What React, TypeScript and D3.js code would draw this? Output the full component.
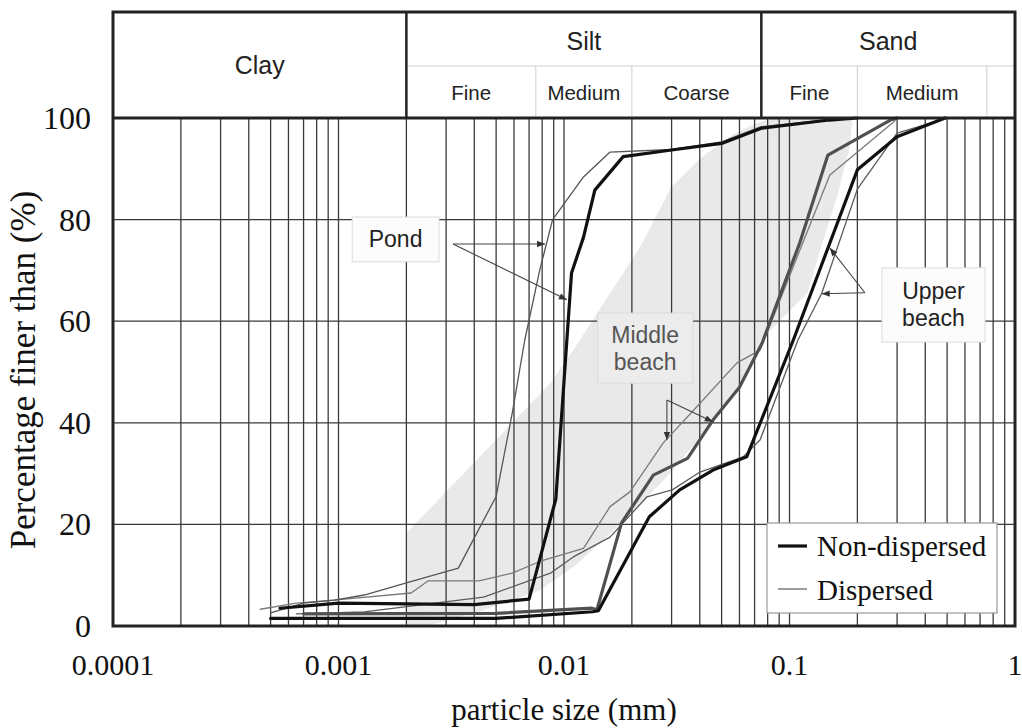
import React from 'react';
import * as d3 from 'd3';

const W = 1022;
const H = 728;
const frame = { left: 113, right: 1015, top: 118, bottom: 626, headTop: 12, headMid: 66 };

const SERIF = '"Liberation Serif", "Times New Roman", serif';
const SANS = '"Liberation Sans", Arial, Helvetica, sans-serif';

// axis ticks
const xTicks = [0.0001, 0.001, 0.01, 0.1, 1];
const xTickLabels = ['0.0001', '0.001', '0.01', '0.1', '1'];
const yTicks = [0, 20, 40, 60, 80, 100];

// soil classification header
const mainClasses = ['Clay', 'Silt', 'Sand'];
const mainBounds = [0.0001, 0.002, 0.075, 1];
const subClasses = ['Fine', 'Medium', 'Coarse', 'Fine', 'Medium', ''];
const subBounds = [0.002, 0.0075, 0.02, 0.075, 0.2, 0.75, 1];

// grading curves: [particle size (mm), percentage finer (%)]
const pondNonDispersed: [number, number][] = [
  [0.00055, 3.5], [0.001, 4.5], [0.004, 4.2], [0.007, 5.3], [0.0092, 25], [0.0108, 69.5],
  [0.0122, 76.5], [0.0137, 85.8], [0.0183, 92.4], [0.03, 93.7], [0.05, 95], [0.075, 98],
  [0.15, 99.6], [0.2, 100],
];
const pondDispersed: [number, number][] = [
  [0.0005, 2.6], [0.0007, 4.5], [0.00096, 5.1], [0.0013, 6.1], [0.002, 8.5], [0.0034, 11.4],
  [0.005, 25.5], [0.0059, 42], [0.0067, 56.3], [0.0078, 70], [0.0089, 80], [0.0122, 88.4],
  [0.016, 93.3], [0.03, 93.8], [0.05, 95.3], [0.075, 98.3], [0.15, 99.7], [0.2, 100],
];
const middleNonDispersed: [number, number][] = [
  [0.0007, 2.4], [0.005, 2.5], [0.0133, 3.5], [0.014, 3.2], [0.018, 20.3], [0.0249, 29.7],
  [0.0353, 33], [0.0457, 40.5], [0.06, 47], [0.0756, 55.7], [0.111, 75.4], [0.148, 92.7],
  [0.28, 99.6], [0.3, 100],
];
const middleDispersed: [number, number][] = [
  [0.00045, 3.3], [0.00065, 4.5], [0.00095, 5.1], [0.0021, 6.5], [0.0025, 8.9], [0.0042, 8.9],
  [0.0059, 10.4], [0.0078, 12.7], [0.0122, 15.3], [0.016, 23.5], [0.0196, 26.4], [0.0275, 36],
  [0.0389, 43.2], [0.0585, 51.8], [0.074, 54.3], [0.151, 88.8], [0.286, 99], [0.3, 100],
];
const upperNonDispersed: [number, number][] = [
  [0.0005, 1.5], [0.005, 1.5], [0.0134, 2.8], [0.0142, 3.0], [0.0239, 21.5], [0.0326, 26.8],
  [0.0458, 30.7], [0.0646, 33.3], [0.104, 56.3], [0.151, 75.4], [0.2, 89.8], [0.3, 96.3],
  [0.49, 100],
];
const upperDispersed: [number, number][] = [
  [0.00065, 2.4], [0.0013, 2.8], [0.0044, 5.7], [0.0087, 10.4], [0.011, 13.6], [0.016, 17.5],
  [0.0233, 25.4], [0.0302, 26.8], [0.0401, 30.3], [0.0623, 33.3], [0.074, 36.6], [0.109, 56.3],
  [0.139, 65.5], [0.2, 86], [0.3, 97], [0.5, 100],
];

// envelope of the middle beach samples
const middleBeachEnvelope: [number, number][] = [
  [0.002, 0], [0.002, 18.3], [0.0087, 47.8], [0.011, 54.3], [0.022, 75], [0.03, 86.5],
  [0.04, 92], [0.055, 96.5], [0.07, 98.8], [0.085, 100], [0.19, 100], [0.185, 94.3],
  [0.164, 85.2], [0.14, 75.4], [0.12, 65.5], [0.0745, 56.3], [0.065, 49.8], [0.046, 40],
  [0.036, 34.6], [0.0285, 29.3], [0.018, 20.3], [0.0113, 12], [0.0078, 7], [0.0043, 3],
  [0.0025, 0],
];

type Series = { data: [number, number][]; color: string; width: number };
const series: Series[] = [
  { data: middleDispersed, color: '#7a7a7a', width: 1.3 },
  { data: upperDispersed, color: '#5a5a5a', width: 1.3 },
  { data: pondDispersed, color: '#555', width: 1.3 },
  { data: middleNonDispersed, color: '#505050', width: 3.2 },
  { data: upperNonDispersed, color: '#111', width: 3.2 },
  { data: pondNonDispersed, color: '#111', width: 3.2 },
];

// callout boxes (data extents) and their arrows
type Callout = {
  lines: string[]; x0: number; x1: number; y0: number; y1: number;
  fill: string; textColor: string; from: [number, number]; to: [number, number][];
};
const callouts: Callout[] = [
  {
    lines: ['Pond'], x0: 0.00115, x1: 0.00279, y0: 71.7, y1: 80.5, fill: '#fcfcfc', textColor: '#222',
    from: [0.00322, 75.2], to: [[0.00824, 75.2], [0.0103, 64.2]],
  },
  {
    lines: ['Middle', 'beach'], x0: 0.0141, x1: 0.0372, y0: 47.8, y1: 61.6, fill: '#ececec', textColor: '#555',
    from: [0.0286, 44.5], to: [[0.0286, 36.6], [0.0457, 40.2]],
  },
  {
    lines: ['Upper', 'beach'], x0: 0.257, x1: 0.736, y0: 55.9, y1: 70.5, fill: '#fcfcfc', textColor: '#222',
    from: [0.216, 65.6], to: [[0.151, 74.4], [0.139, 65.4]],
  },
];

const legendItems = [
  { label: 'Non-dispersed', color: '#111', width: 3.2 },
  { label: 'Dispersed', color: '#666', width: 1.3 },
];

export default function App() {
  const x = d3.scaleLog().domain([0.0001, 1]).range([frame.left, frame.right]);
  const y = d3.scaleLinear().domain([0, 100]).range([frame.bottom, frame.top]);
  const line = d3.line<[number, number]>().x((d) => x(d[0])).y((d) => y(d[1]));
  const area = d3.line<[number, number]>().x((d) => x(d[0])).y((d) => y(d[1])).curve(d3.curveLinearClosed);

  const gridX = x.ticks().filter((v) => v > 0.0001 && v < 1);
  const gridY = yTicks.filter((v) => v > 0 && v < 100);
  const gridColor = '#3a3a3a';

  return (
    <svg width={W} height={H} style={{ position: 'absolute', left: 0, top: 0, background: '#fff' }}>
      <defs>
        <marker id="arrowHead" viewBox="0 0 10 10" refX="10" refY="5" markerWidth="9" markerHeight="8"
          orient="auto" markerUnits="userSpaceOnUse">
          <path d="M0,1 L10,5 L0,9 z" fill="#333" />
        </marker>
      </defs>

      {/* middle beach envelope */}
      <path d={area(middleBeachEnvelope) || ''} fill="#e9e9e9" stroke="none" />

      {/* grid */}
      {gridX.map((v, i) => (
        <line key={'gx' + i} x1={x(v)} x2={x(v)} y1={frame.top} y2={frame.bottom} stroke={gridColor} strokeWidth={1.3} />
      ))}
      {gridY.map((v) => (
        <line key={'gy' + v} x1={frame.left} x2={frame.right} y1={y(v)} y2={y(v)} stroke={gridColor} strokeWidth={1.3} />
      ))}

      {/* curves */}
      {series.map((s, i) => (
        <path key={'s' + i} d={line(s.data) || ''} fill="none" stroke={s.color} strokeWidth={s.width}
          strokeLinejoin="round" strokeLinecap="round" />
      ))}

      {/* classification header */}
      <g fontFamily={SANS} fill="#222">
        <line x1={x(subBounds[0])} x2={frame.right} y1={frame.headMid} y2={frame.headMid} stroke="#cfcfcf" strokeWidth={1} />
        {subBounds.slice(1, -1).map((b, i) => (
          <line key={'sb' + i} x1={x(b)} x2={x(b)} y1={frame.headMid} y2={frame.top} stroke="#cfcfcf" strokeWidth={1} />
        ))}
        {mainClasses.map((c, i) => {
          const cx = (x(mainBounds[i]) + x(mainBounds[i + 1])) / 2;
          const cy = i === 0 ? 74 : 50;
          return (
            <text key={'mc' + i} x={cx} y={cy} textAnchor="middle" fontSize={25}>{c}</text>
          );
        })}
        {subClasses.map((c, i) => {
          const cx = (x(subBounds[i]) + x(subBounds[i + 1])) / 2;
          return (
            <text key={'sc' + i} x={cx} y={100} textAnchor="middle" fontSize={20.5}>{c}</text>
          );
        })}
        {mainBounds.slice(1, -1).map((b, i) => (
          <line key={'mb' + i} x1={x(b)} x2={x(b)} y1={frame.headTop} y2={frame.top} stroke="#222" strokeWidth={2.5} />
        ))}
      </g>

      {/* frame */}
      <g stroke="#222" strokeWidth={3} fill="none">
        <rect x={frame.left} y={frame.headTop} width={frame.right - frame.left} height={frame.bottom - frame.headTop} />
        <line x1={frame.left} x2={frame.right} y1={frame.top} y2={frame.top} />
      </g>

      {/* callouts */}
      {callouts.map((c, i) => {
        const bx0 = x(c.x0), bx1 = x(c.x1), by0 = y(c.y1), by1 = y(c.y0);
        const cx = (bx0 + bx1) / 2;
        const lh = 27;
        const firstBase = (by0 + by1) / 2 + 8 - ((c.lines.length - 1) * lh) / 2;
        return (
          <g key={'c' + i}>
            <rect x={bx0} y={by0} width={bx1 - bx0} height={by1 - by0} fill={c.fill} stroke="#dcdcdc" strokeWidth={1} />
            {c.lines.map((t, j) => (
              <text key={j} x={cx} y={firstBase + j * lh} textAnchor="middle" fontFamily={SANS} fontSize={23} fill={c.textColor}>{t}</text>
            ))}
            {c.to.map((p, j) => (
              <line key={'a' + j} x1={x(c.from[0])} y1={y(c.from[1])} x2={x(p[0])} y2={y(p[1])}
                stroke="#444" strokeWidth={1.1} markerEnd="url(#arrowHead)" />
            ))}
          </g>
        );
      })}

      {/* legend */}
      <g>
        <rect x={767} y={523} width={230} height={90} fill="#fff" stroke="#999" strokeWidth={1.2} />
        {legendItems.map((it, i) => (
          <g key={'l' + i}>
            <line x1={778} x2={807} y1={546 + i * 43} y2={546 + i * 43} stroke={it.color} strokeWidth={it.width} />
            <text x={817} y={556 + i * 44} fontFamily={SERIF} fontSize={29} fill="#111">{it.label}</text>
          </g>
        ))}
      </g>

      {/* axes labels */}
      <g fontFamily={SERIF} fill="#111">
        {yTicks.map((v) => (
          <text key={'yt' + v} x={91} y={y(v) + 11} textAnchor="end" fontSize={32}>{v}</text>
        ))}
        {xTicks.map((v, i) => (
          <text key={'xt' + i} x={x(v)} y={675} textAnchor="middle" fontSize={30}>{xTickLabels[i]}</text>
        ))}
        <text x={x(0.01)} y={720} textAnchor="middle" fontSize={31}>particle size (mm)</text>
        <text transform={`translate(35, ${(frame.top + frame.bottom) / 2 - 2}) rotate(-90)`} textAnchor="middle" fontSize={35}>
          Percentage finer than (%)
        </text>
      </g>
    </svg>
  );
}
